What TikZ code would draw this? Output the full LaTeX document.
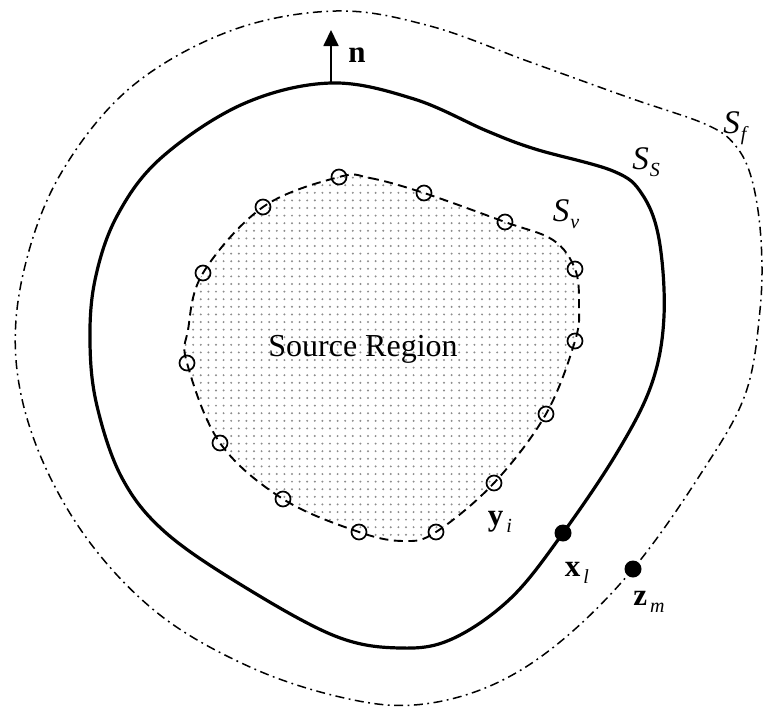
\documentclass[tikz,border=0pt]{standalone}
\usepackage{fontspec}
\setmainfont{Liberation Serif}
\usetikzlibrary{arrows.meta}
\newcommand\sublabel[3]{#1\hspace{#3}\raisebox{-7pt}{\fontsize{20}{20}\selectfont\mdseries\itshape #2}}
\begin{document}
\begin{tikzpicture}[x=1pt,y=-1pt,
  surfS/.style={line width=3.2pt},
  surfV/.style={line width=1.9pt, dash pattern=on 9pt off 5.5pt},
  surfF/.style={line width=1.5pt, dash pattern=on 9pt off 4.5pt on 1.8pt off 4.5pt},
  samp/.style={circle, draw, line width=1.7pt, minimum size=15pt, inner sep=0pt},
  fpt/.style={circle, fill, minimum size=17pt, inner sep=0pt},
  lab/.style={font=\fontsize{32}{36}\selectfont, inner sep=0pt},
  bl/.style={font=\fontsize{31}{34}\selectfont\bfseries, inner sep=0pt}
]
\useasboundingbox (0,0) rectangle (763,707);

% source region dots
\begin{scope}
  \clip plot[smooth cycle, tension=0.6] coordinates {
    (339,177) (370,178) (424,193) (505,222) (553,240) (575,269) (579,305)
    (575,341) (546,414) (494,483) (436,532) (404,541) (359,532) (283,499)
    (220,443) (187,363) (188,330) (203,273) (263,207)};
  \foreach \i in {0,...,54} {
    \foreach \j in {0,...,50} {
      \fill[black!45] (178+\i*7.6, 170+\j*7.6) circle (1.1pt);
    }
  }
\end{scope}

% S_v (dashed)
\draw[surfV] plot[smooth cycle, tension=0.6] coordinates {
    (339,177) (370,178) (424,193) (505,222) (553,240) (575,269) (579,305)
    (575,341) (546,414) (494,483) (436,532) (404,541) (359,532) (283,499)
    (220,443) (187,363) (188,330) (203,273) (263,207)};

% S_S (solid)
\draw[surfS] plot[smooth cycle, tension=0.6] coordinates {
    (331,83) (414,99) (487,131) (535,149) (613,171) (642,194) (659,239)
    (664,316) (652,383) (618,451) (563,533) (511,598) (452,639) (400,648)
    (335,636) (243,586) (165,532) (122,478) (97,406) (90,343) (95,280)
    (117,216) (161,158) (243,104)};

% S_f (dash-dot)
\draw[surfF] plot[smooth cycle, tension=0.6] coordinates {
    (336,11) (430,26) (530,62) (630,98) (705,124) (735,145) (752,180)
    (761,240) (760,310) (745,395) (700,475) (633,569) (560,642) (490,686)
    (414,705) (340,697) (250,667) (160,615) (88,540) (38,450) (16,360)
    (24,270) (60,175) (130,88) (230,31)};

% sample points y_i
\foreach \p [count=\k] in {(339,177),(424,193),(505,222),(575,269),(575,341),
    (546,414),(494,483),(436,532),(359,532),(283,499),(220,443),(187,363),
    (203,273),(263,207)}
  \node[samp] (y\k) at \p {};

% field points
\node[fpt] (xl) at (563,533) {};
\node[fpt] (zm) at (633,569) {};

% normal vector
\coordinate (ntail) at (331,84);
\coordinate (nhead) at (331,30);
\draw[line width=1.8pt, -{Triangle[length=16pt,width=15pt]}] (ntail) -- (nhead);

% labels
\node[bl] (nlab) at (357,55) {n};
\node[lab] (src) at (363,349) {Source Region};
\node[lab, font=\fontsize{33}{36}\selectfont\itshape] (Sf) at (735,128) {\sublabel{S}{f}{1pt}};
\node[lab, font=\fontsize{33}{36}\selectfont\itshape] (Ss) at (646,162) {\sublabel{S}{S}{1pt}};
\node[lab, font=\fontsize{33}{36}\selectfont\itshape] (Sv) at (566,214) {\sublabel{S}{v}{1pt}};
\node[bl] (ylab) at (500,522) {\sublabel{y}{i}{3pt}};
\node[bl] (xlab) at (577,573) {\sublabel{x}{l}{3pt}};
\node[bl] (zlab) at (649,602) {\sublabel{z}{m}{3pt}};
\end{tikzpicture}
\end{document}
